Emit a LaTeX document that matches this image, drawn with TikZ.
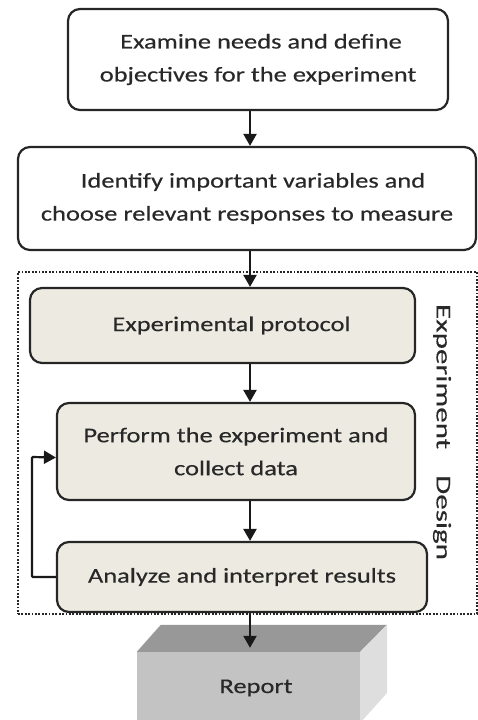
\documentclass[tikz,border=0pt]{standalone}
\usepackage{fontspec}
\setmainfont{Carlito}[FakeStretch=1.26, FakeBold=0.3]
\newfontfamily\sidefont{Carlito}[FakeStretch=1.48, FakeBold=0.3]
\usetikzlibrary{arrows.meta,positioning}
\definecolor{stepfill}{RGB}{237,235,225}
\definecolor{reportfront}{RGB}{195,195,195}
\definecolor{reporttop}{RGB}{152,152,152}
\definecolor{reportside}{RGB}{222,222,222}
\definecolor{textgray}{RGB}{40,40,40}

\begin{document}
\begin{tikzpicture}[x=1pt, y=-1pt,
    box/.style={draw=black!85, line width=2.2pt, rounded corners=12pt, align=center,
        text=textgray, font=\fontsize{21}{33}\selectfont, inner sep=0pt},
    whitebox/.style={box, fill=white},
    stepbox/.style={box, fill=stepfill},
    flow/.style={line width=2.2pt, draw=black!90, -{Triangle[width=13pt,length=12pt]}},
    frame/.style={draw=black!85, line width=1.8pt, dash pattern=on 1.8pt off 1.6pt, inner sep=0pt}]
    \useasboundingbox (0,0) rectangle (478,720);

    % dotted frame round the design steps
    \node[frame, minimum width=459pt, minimum height=342pt] (design) at (247.5,443) {};
    \node[rotate=-90, text=textgray, font=\sidefont\fontsize{21}{24}\selectfont] (designlabel) at (442,432)
        {Experiment\hspace{26pt}Design};

    % steps
    \node[whitebox, minimum width=380pt, minimum height=101pt] (needs) at (258,59.5)
        {\hspace{6pt}Examine needs and define\\objectives for the experiment};
    \node[whitebox, minimum width=458pt, minimum height=103pt] (variables) at (247,198.5)
        {\hspace{12pt}Identify important variables and\\choose relevant responses to measure};
    \node[stepbox, minimum width=385pt, minimum height=75pt] (protocol) at (222.5,325.5)
        {\hspace{18pt}Experimental protocol};
    \node[stepbox, minimum width=358pt, minimum height=97pt] (perform) at (236,451.5)
        {Perform the experiment and\\collect data};
    \node[stepbox, minimum width=370pt, minimum height=70pt] (analyze) at (242,577)
        {Analyze and interpret results};

    % report block
    \node[fill=reportfront, minimum width=223pt, minimum height=72pt, inner sep=0pt,
        text=textgray, font=\fontsize{21}{24}\selectfont] (report) at (248.5,688) {\hspace{15pt}Report};
    \fill[reporttop] (report.north west) -- ++(24,-27) -- ++(226,0) -- (report.north east) -- cycle;
    \fill[reportside] (report.north east) -- ++(27,-27) -- ++(0,68) -- ++(-27,30) -- cycle;

    % connectors
    \coordinate (spine) at (250,0);
    \draw[flow] (needs.south -| spine) -- (variables.north -| spine);
    \draw[flow] (variables.south -| spine) -- (protocol.north -| spine);
    \draw[flow] (protocol.south -| spine) -- (perform.north -| spine);
    \draw[flow] (perform.south -| spine) -- (analyze.north -| spine);
    \draw[flow] (analyze.south -| spine) -- ([yshift=4pt]report.north -| spine);
    \draw[flow, rounded corners=1pt] (analyze.west) -| (32,457) -- ([yshift=-6pt]perform.west);
\end{tikzpicture}
\end{document}
